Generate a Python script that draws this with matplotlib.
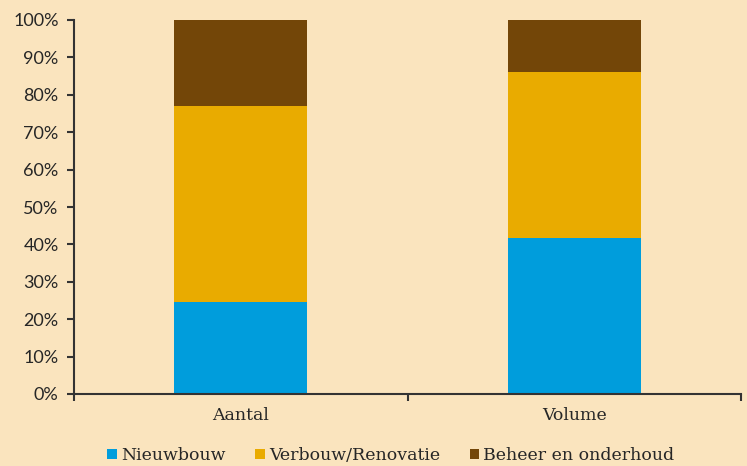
import matplotlib
matplotlib.use("Agg")
from matplotlib import pyplot as plt
from matplotlib.ticker import PercentFormatter

categories = ["Aantal", "Volume"]
nieuwbouw = [24.7, 41.7]
verbouw = [52.3, 44.5]
beheer = [23.0, 13.8]

series = [
    ("Nieuwbouw", nieuwbouw, "#009DDC"),
    ("Verbouw/Renovatie", verbouw, "#E9AB00"),
    ("Beheer en onderhoud", beheer, "#734608"),
]

bg = "#FAE4BE"
fig = plt.figure(figsize=(7.47, 4.66), dpi=100, facecolor=bg)
ax = fig.add_axes([74 / 747, 1 - 394 / 466, (741 - 74) / 747, (394 - 20) / 466])
ax.set_facecolor(bg)

x = range(len(categories))
bottom = [0, 0]
for name, vals, color in series:
    ax.bar(x, vals, width=0.4, bottom=bottom, color=color, label=name)
    bottom = [b + v for b, v in zip(bottom, vals)]

ax.set_xlim(-0.5, len(categories) - 0.5)
ax.set_ylim(0, 100)
ax.set_yticks(range(0, 101, 10))
ax.yaxis.set_major_formatter(PercentFormatter(decimals=0))

ax.set_xticks(list(x))
ax.set_xticklabels(categories, fontfamily="DejaVu Serif", fontsize=12.5, color="#262626")
ax.tick_params(axis="x", which="major", length=0, pad=9)
ax.set_xticks([-0.5, 0.5, 1.5], minor=True)
ax.tick_params(axis="x", which="minor", length=5, width=1.5, color="#333333")
ax.tick_params(axis="y", length=5, width=1.5, color="#333333",
               labelsize=13, labelcolor="#262626", pad=6)
for lbl in ax.get_yticklabels():
    lbl.set_fontfamily("Lato")

for side in ["top", "right"]:
    ax.spines[side].set_visible(False)
for side in ["left", "bottom"]:
    ax.spines[side].set_linewidth(1.5)
    ax.spines[side].set_color("#333333")

ax.legend(loc="lower center", bbox_to_anchor=(0.475, -0.23), ncol=3, frameon=False,
          prop={"family": "DejaVu Serif", "size": 12.5}, handlelength=0.55,
          handleheight=0.55, handletextpad=0.25, columnspacing=1.7,
          labelcolor="#262626")

fig.savefig("out.png", dpi=100, facecolor=bg)
